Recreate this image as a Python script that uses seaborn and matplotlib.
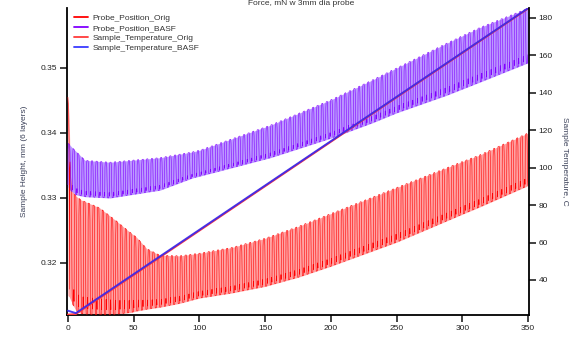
import numpy as np
import pandas as pd
import matplotlib
matplotlib.use("Agg")
import matplotlib.pyplot as plt
from matplotlib.lines import Line2D
import seaborn as sns

# ---------------- data ----------------
time_ticks = [0, 50, 100, 150, 200, 250, 300, 350]
height_ticks = [0.32, 0.33, 0.34, 0.35]
temp_ticks = [40, 60, 80, 100, 120, 140, 160, 180]

# Probe_Position_Orig envelope (time, upper, lower)
orig_t = [0, 1, 2, 6, 10, 24, 36, 48, 52, 60, 70, 85, 100, 125, 150, 175, 200, 250, 300, 313, 350]
orig_upper = [0.3455, 0.3420, 0.3316, 0.3303, 0.3297, 0.3285, 0.3266, 0.3246, 0.3240, 0.3222, 0.3212,
              0.3211, 0.3215, 0.3224, 0.3238, 0.3256, 0.3276, 0.3316, 0.3356, 0.3366, 0.3400]
orig_lower = [0.3150, 0.3148, 0.3143, 0.3127, 0.3122, 0.3120, 0.3121, 0.3124, 0.3126, 0.3129, 0.3132,
              0.3138, 0.3146, 0.3154, 0.3164, 0.3178, 0.3195, 0.3232, 0.3275, 0.3286, 0.3319]

# Probe_Position_BASF envelope
basf_t = [0, 3, 6, 13, 32, 70, 95, 101, 154, 200, 232, 250, 288, 313, 350]
basf_upper = [0.3385, 0.3378, 0.3372, 0.3358, 0.3355, 0.3362, 0.3371, 0.3374, 0.3412, 0.3451, 0.3482,
              0.3500, 0.3538, 0.3562, 0.3592]
basf_lower = [0.3317, 0.3310, 0.3305, 0.3302, 0.3300, 0.3312, 0.3331, 0.3334, 0.3362, 0.3392, 0.3416,
              0.3431, 0.3458, 0.3478, 0.3508]

# Sample temperatures
temp_t = [0, 6, 350]
temp_orig = [21.5, 21.8, 185.0]
temp_basf = [23.6, 22.3, 185.2]

cycle_period = 3.5

labels = ["Probe_Position_Orig", "Probe_Position_BASF",
          "Sample_Temperature_Orig", "Sample_Temperature_BASF"]
c_orig, c_basf = "#ff0000", "#8000ff"
c_torig, c_tbasf = "#ff3a3a", "#3a3aff"
fill_orig, fill_basf = "#ffa3a3", "#bb98ff"


def wave(t_k, up_k, lo_k, t0, t1, period):
    xs, ys = [], []
    shape_f = [0.0, 0.05, 0.12, 0.38, 0.45, 0.50, 0.55, 0.62, 0.88, 0.95]
    shape_v = [0.05, 0.85, 1.0, 1.0, 0.85, 0.5, 0.15, 0.0, 0.0, 0.15]
    s = t0
    while s < t1:
        for f, v in zip(shape_f, shape_v):
            x = s + f * period
            if x > t1:
                break
            u = np.interp(x, t_k, up_k)
            lo = np.interp(x, t_k, lo_k)
            xs.append(x)
            ys.append(lo + v * (u - lo))
        s += period
    return np.array(xs), np.array(ys)


sns.set_style("ticks")
plt.rcParams["font.family"] = ["Liberation Sans", "DejaVu Sans"]

fig = plt.figure(figsize=(5.77, 3.39), dpi=100)
ax = fig.add_axes([67 / 577, 1 - 315 / 339, 462 / 577, 307 / 339])
ax2 = ax.twinx()

# Orig band
grid = np.linspace(0, 350, 1400)
ax.fill_between(grid, np.interp(grid, orig_t, orig_lower), np.interp(grid, orig_t, orig_upper),
                color=fill_orig, lw=0, zorder=1)
xo, yo = wave(orig_t, orig_upper, orig_lower, 1.2, 350, cycle_period)
xo = np.concatenate([[0, 0.4, 0.9], xo])
yo = np.concatenate([[0.3455, 0.3440, 0.3380], yo])
df_o = pd.DataFrame({"t": xo, "h": yo})
sns.lineplot(data=df_o, x="t", y="h", ax=ax, color=c_orig, lw=0.4, sort=False,
             estimator=None, zorder=3)

# BASF band
ax.fill_between(grid, np.interp(grid, basf_t, basf_lower), np.interp(grid, basf_t, basf_upper),
                color=fill_basf, lw=0, zorder=2)
xb, yb = wave(basf_t, basf_upper, basf_lower, 0.0, 350, cycle_period)
df_b = pd.DataFrame({"t": xb, "h": yb})
sns.lineplot(data=df_b, x="t", y="h", ax=ax, color=c_basf, lw=0.4, sort=False,
             estimator=None, zorder=4)

# Temperatures
df_t = pd.DataFrame({"t": temp_t, "orig": temp_orig, "basf": temp_basf})
sns.lineplot(data=df_t, x="t", y="orig", ax=ax2, color=c_torig, lw=1.4)
sns.lineplot(data=df_t, x="t", y="basf", ax=ax2, color="#3428f0", lw=1.4, alpha=0.9)

# axes
ax.set_xlim(-0.7, 350.7)
ax.set_ylim(0.3120, 0.35923)
ax2.set_ylim(21.3, 185.3)
ax.set_xticks(time_ticks)
ax.set_xticklabels([str(v) for v in time_ticks])
ax.set_yticks(height_ticks)
ax.set_yticklabels([f"{v:.2f}" for v in height_ticks])
ax2.set_yticks(temp_ticks)
ax2.set_yticklabels([str(v) for v in temp_ticks])
ax.set_xlabel("")
ax.set_ylabel("Sample Height, mm (6 layers)", fontsize=6, color="#3a4058", labelpad=9)
ax2.set_ylabel("Sample Temperature, C", fontsize=6, color="#3a4058", rotation=-90, labelpad=11)

for a in (ax, ax2):
    a.spines["top"].set_visible(False)
    for sp in a.spines.values():
        sp.set_linewidth(1.3)
        sp.set_color("black")
    a.tick_params(labelsize=6, length=5, width=1.2, colors="#222222", pad=2)
ax.spines["right"].set_visible(False)
ax2.spines["left"].set_visible(False)
ax2.spines["bottom"].set_visible(False)

fig.text(0.522, 0.999, "Force, mN w 3mm dia probe", fontsize=6, ha="center", va="top",
         color="#333333")

handles = [Line2D([], [], color=c, lw=1.3) for c in (c_orig, c_basf, c_torig, c_tbasf)]
ax2.legend(handles, labels, loc="upper left", bbox_to_anchor=(0.012, 0.985), frameon=False,
           fontsize=6, handlelength=1.6, handletextpad=0.6, labelspacing=0.25,
           borderaxespad=0, borderpad=0.2, labelcolor="#333333")

fig.savefig("out.png", dpi=100)
